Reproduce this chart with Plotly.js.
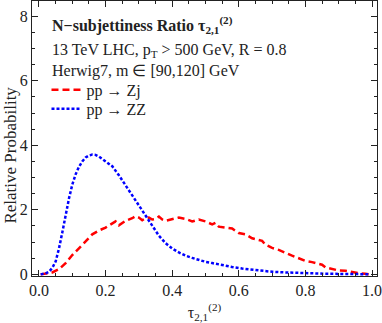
<!DOCTYPE html>
<html>
<head>
<meta charset="utf-8">
<script src="https://cdn.plot.ly/plotly-3.0.1.min.js"></script>
<style>
	html, body { margin: 0; padding: 0; background: #fff; }
	#plot { width: 382px; height: 323px; }
</style>
</head>
<body>
<div id="plot"></div>
<script>

// pp -> ZZ (blue, dotted)
const tauZZ = [ 0.005, 0.02, 0.03, 0.04, 0.05, 0.06, 0.07, 0.08, 0.09, 0.10, 0.11, 0.12, 0.13, 0.14, 0.15, 0.16, 0.17, 0.18, 0.19, 0.20,
	0.22, 0.24, 0.26, 0.28, 0.30, 0.32, 0.34, 0.36, 0.38, 0.40, 0.42, 0.44, 0.46, 0.48, 0.50, 0.52, 0.55, 0.58, 0.61, 0.64,
	0.67, 0.70, 0.74, 0.78, 0.82, 0.86, 0.90, 0.95, 0.99 ];
const probZZ = [ 0, 0.03, 0.08, 0.2, 0.4, 0.8, 1.3, 1.85, 2.35, 2.78, 3.1, 3.33, 3.5, 3.62, 3.68, 3.71, 3.7, 3.65, 3.58, 3.5,
	3.35, 3.07, 2.76, 2.44, 2.13, 1.82, 1.5, 1.2, 0.97, 0.8, 0.68, 0.58, 0.51, 0.44, 0.39, 0.35, 0.28, 0.23, 0.18, 0.14,
	0.11, 0.08, 0.06, 0.04, 0.03, 0.02, 0.015, 0.01, 0.005 ];

// pp -> Zj (red, dashed)
const tauZj = [ 0.005, 0.02, 0.04, 0.06, 0.08, 0.10, 0.12, 0.14, 0.16, 0.18, 0.20, 0.22, 0.23, 0.24, 0.26, 0.28, 0.29, 0.30, 0.31, 0.32,
	0.33, 0.34, 0.35, 0.36, 0.37, 0.38, 0.40, 0.42, 0.44, 0.46, 0.48, 0.50, 0.52, 0.53, 0.54, 0.56, 0.58, 0.60, 0.62, 0.64,
	0.66, 0.67, 0.68, 0.70, 0.72, 0.74, 0.76, 0.78, 0.80, 0.82, 0.84, 0.85, 0.86, 0.88, 0.90, 0.92, 0.94, 0.96, 0.98, 0.995 ];
const probZj = [ 0, 0.02, 0.06, 0.16, 0.35, 0.6, 0.8, 1.02, 1.24, 1.36, 1.45, 1.58, 1.64, 1.52, 1.66, 1.74, 1.8, 1.76, 1.68, 1.74,
	1.76, 1.7, 1.72, 1.79, 1.7, 1.66, 1.72, 1.76, 1.72, 1.64, 1.7, 1.64, 1.55, 1.6, 1.48, 1.44, 1.42, 1.28, 1.24, 1.12,
	1.06, 1.04, 0.92, 0.82, 0.76, 0.66, 0.58, 0.5, 0.42, 0.38, 0.32, 0.3, 0.22, 0.16, 0.12, 0.11, 0.07, 0.04, 0.02, 0 ];

const xTicks = [ 0, 0.2, 0.4, 0.6, 0.8, 1.0 ];
const xTickText = [ '0.0', '0.2', '0.4', '0.6', '0.8', '1.0' ];
const yTicks = [ 0, 2, 4, 6, 8 ];

const textLines = [
	'<b>N−subjettiness Ratio τ<sub>2,1</sub><sup>(2)</sup></b>',
	'13 TeV LHC, p<sub>T</sub> > 500 GeV, R = 0.8',
	'Herwig7, m ∈ [90,120] GeV'
];

const serif = 'Liberation Serif, Times New Roman, serif';
const ink = '#222';

let data = [
	{
		x: tauZj,
		y: probZj,
		name: 'pp → Zj',
		legend: 'legend',
		type: 'scatter',
		mode: 'lines',
		line: { color: '#ff0000', width: 2.5, dash: '7px,4px' }
	},
	{
		x: tauZZ,
		y: probZZ,
		name: 'pp → ZZ',
		legend: 'legend2',
		type: 'scatter',
		mode: 'lines',
		line: { color: '#0000ff', width: 2.5, dash: '3px,2px' }
	}
];

let axisCommon = {
	showgrid: false,
	zeroline: false,
	showline: true,
	linecolor: ink,
	linewidth: 1,
	mirror: 'ticks',
	ticks: 'inside',
	ticklen: 6,
	tickcolor: ink,
	tickfont: { family: serif, size: 16, color: ink }
};

let legendCommon = {
	x: 0.042,
	xanchor: 'left',
	yanchor: 'middle',
	bgcolor: 'rgba(0,0,0,0)',
	font: { family: serif, size: 16, color: ink }
};

let layout = {
	width: 382,
	height: 323,
	margin: { l: 32, r: 5, t: 1, b: 47 },
	paper_bgcolor: '#fff',
	plot_bgcolor: '#fff',
	font: { family: serif, color: ink },
	showlegend: true,
	legend: Object.assign( {}, legendCommon, { y: 0.677 } ),
	legend2: Object.assign( {}, legendCommon, { y: 0.608 } ),
	xaxis: Object.assign( {}, axisCommon, {
		range: [ -0.021, 1.015 ],
		tickvals: xTicks,
		ticktext: xTickText,
		minor: { dtick: 0.05, tick0: 0, ticks: 'inside', ticklen: 3, tickcolor: ink, showgrid: false },
		title: { text: 'τ<sub>2,1</sub><sup>(2)</sup>', font: { family: serif, size: 16, color: ink }, standoff: 12 }
	} ),
	yaxis: Object.assign( {}, axisCommon, {
		range: [ -0.05, 8.47 ],
		tickvals: yTicks,
		minor: { dtick: 0.5, tick0: 0, ticks: 'inside', ticklen: 3, tickcolor: ink, showgrid: false }
	} ),
	annotations: [
		{ text: textLines[ 0 ], xref: 'paper', yref: 'paper', x: 0.053, y: 0.911, xanchor: 'left', yanchor: 'middle', showarrow: false, font: { family: serif, size: 16, color: ink } },
		{ text: textLines[ 1 ], xref: 'paper', yref: 'paper', x: 0.053, y: 0.82, xanchor: 'left', yanchor: 'middle', showarrow: false, font: { family: serif, size: 16, color: ink } },
		{ text: textLines[ 2 ], xref: 'paper', yref: 'paper', x: 0.053, y: 0.747, xanchor: 'left', yanchor: 'middle', showarrow: false, font: { family: serif, size: 16, color: ink } },
		{ text: 'Relative Probability', xref: 'paper', yref: 'paper', x: -0.065, y: 0.44, xanchor: 'center', yanchor: 'middle', textangle: -90, showarrow: false, font: { family: serif, size: 17, color: ink } }
	]
};

Plotly.newPlot( 'plot', data, layout, { staticPlot: true } );

</script>
</body>
</html>
